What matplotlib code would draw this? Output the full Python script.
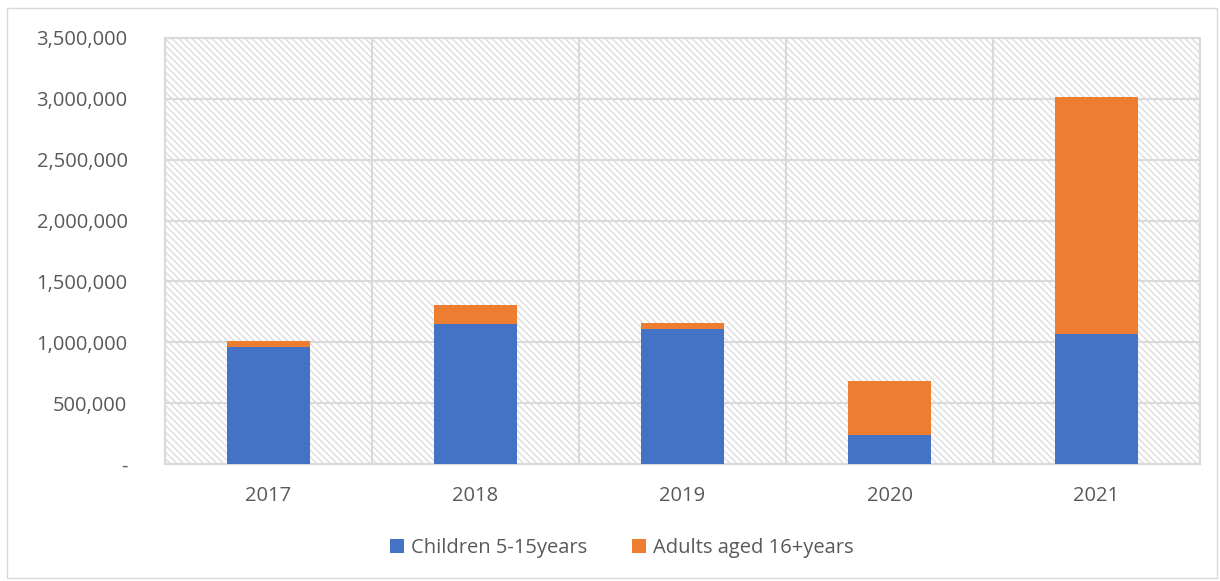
import matplotlib
matplotlib.use("Agg")
import matplotlib.pyplot as plt
from matplotlib.patches import Rectangle, Patch
from matplotlib.ticker import FuncFormatter, FixedLocator

years = ["2017", "2018", "2019", "2020", "2021"]
children = [960000, 1150000, 1108000, 238000, 1068000]
adults = [50000, 156000, 50000, 444000, 1947000]
series_names = ["Children 5-15years", "Adults aged 16+years"]

blue = "#4472C4"
orange = "#ED7D31"
grid_c = "#d9d9d9"
text_c = "#595959"

plt.rcParams['font.family'] = ['Open Sans', 'DejaVu Sans']
plt.rcParams['hatch.linewidth'] = 1.0
plt.rcParams['hatch.color'] = '#dedede'

fig = plt.figure(figsize=(12.2, 5.81), dpi=100)
ax = fig.add_axes([165/1220, 1-464/581, (1200-165)/1220, (464-38)/581])

# hatched background
bg = Rectangle((0, 0), 1, 1, transform=ax.transAxes, facecolor='white',
               edgecolor='#dcdcdc', hatch='\\\\\\\\\\', linewidth=0, zorder=0)
ax.add_patch(bg)
ax.set_facecolor('white')

x = list(range(len(years)))
ax.bar(x, children, width=0.4, color=blue, zorder=3, label=series_names[0])
ax.bar(x, adults, width=0.4, bottom=children, color=orange, zorder=3, label=series_names[1])

ax.set_xlim(-0.5, len(years) - 0.5)
ax.set_ylim(0, 3500000)
ax.set_yticks(range(0, 3500001, 500000))
ax.yaxis.set_major_formatter(FuncFormatter(lambda v, p: "-" if v == 0 else f"{int(v):,}"))
ax.set_xticks(x)
ax.set_xticklabels(years)
ax.xaxis.set_minor_locator(FixedLocator([i + 0.5 for i in range(-1, len(years))]))

ax.grid(axis='y', which='major', color=grid_c, linewidth=1.5, zorder=1)
ax.grid(axis='x', which='minor', color=grid_c, linewidth=1.5, zorder=1)
ax.set_axisbelow(True)

for s in ax.spines.values():
    s.set_color(grid_c)
    s.set_linewidth(1.5)

ax.tick_params(axis='both', which='both', length=0, colors=text_c, labelsize=14.5)
ax.tick_params(axis='y', pad=27)
ax.tick_params(axis='x', pad=16)
for lab in ax.get_yticklabels():
    lab.set_horizontalalignment('right')

handles = [Patch(facecolor=blue, label=series_names[0]),
           Patch(facecolor=orange, label=series_names[1])]
leg = fig.legend(handles=handles, loc='center', bbox_to_anchor=(622/1220, 1-548/581),
                 ncol=2, frameon=False, fontsize=14.5, handlelength=0.7, handleheight=0.7,
                 handletextpad=0.35, columnspacing=2.2)
for t in leg.get_texts():
    t.set_color(text_c)

# outer border
fig.add_artist(Rectangle((7/1220, 1-578/581), (1217-7)/1220, (578-8)/581,
                         transform=fig.transFigure, fill=False, edgecolor='#d9d9d9', linewidth=1))

fig.savefig("out.png", dpi=100)
